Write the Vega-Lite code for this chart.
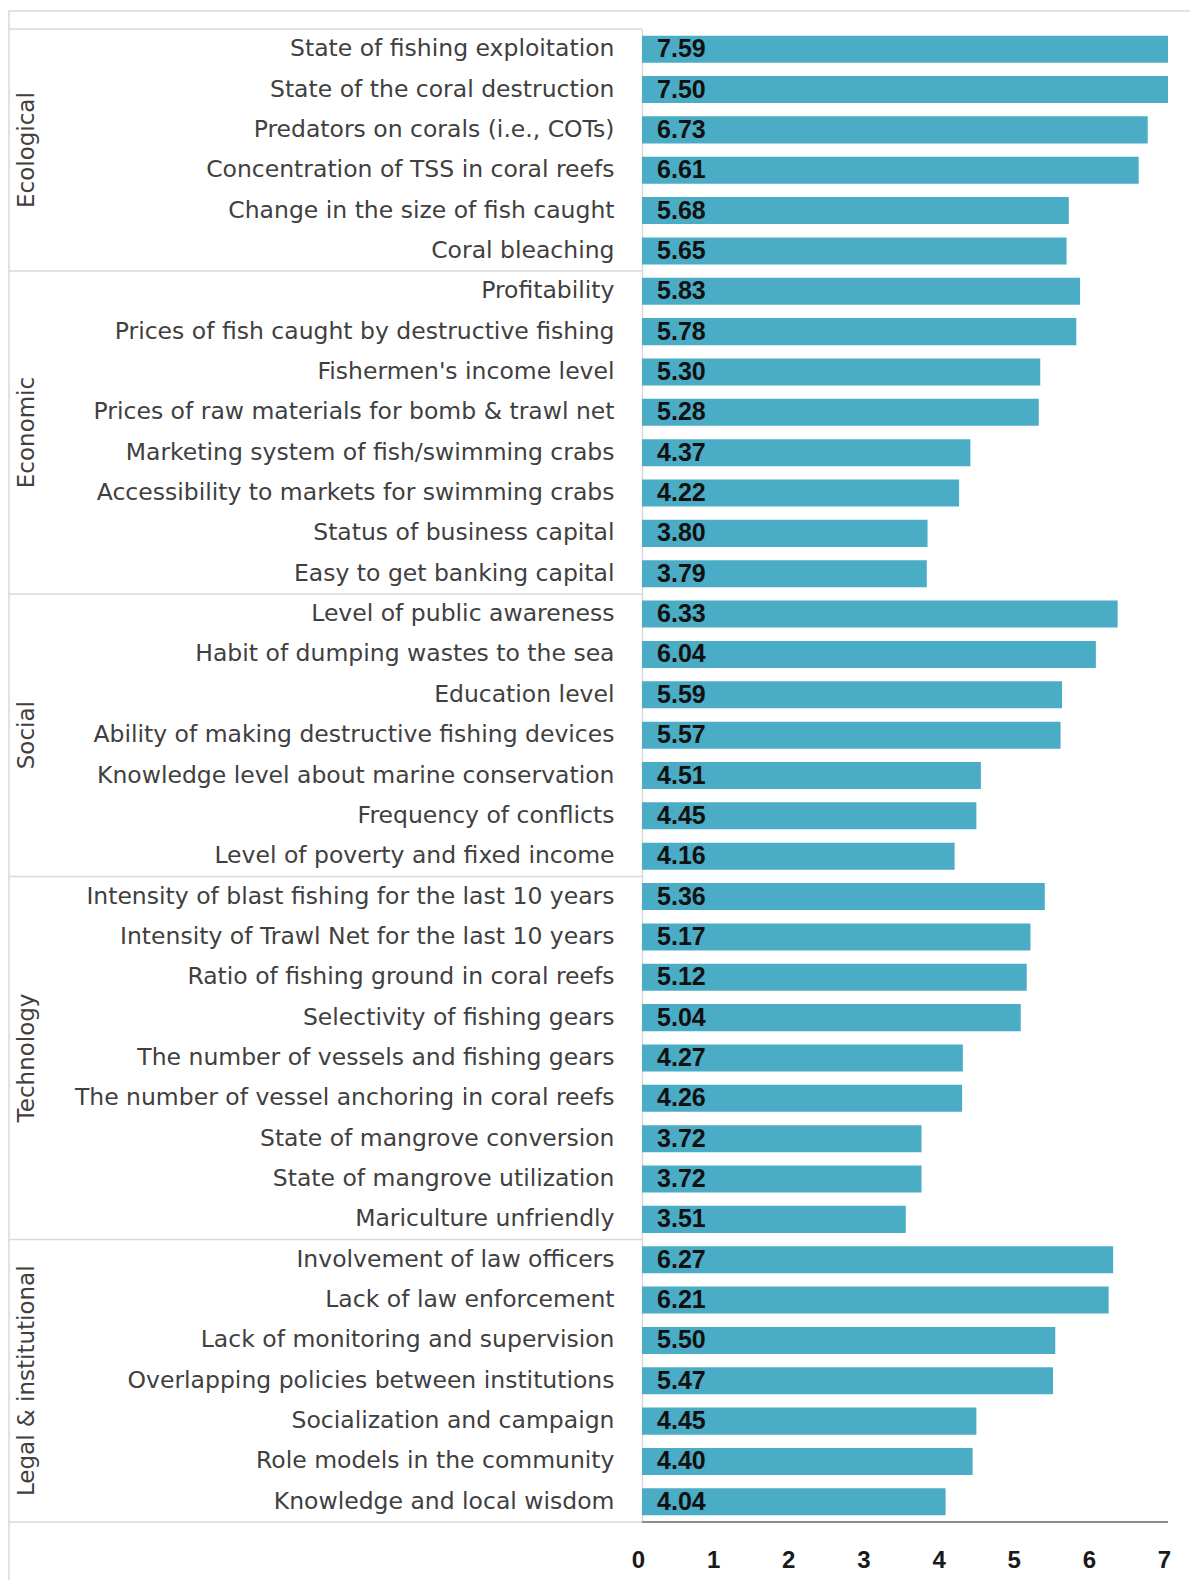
{
  "$schema": "https://vega.github.io/schema/vega-lite/v6.json",
  "width": 1195,
  "height": 1580,
  "autosize": {"type": "none"},
  "padding": {"left": 9, "top": 11, "right": 0, "bottom": 0},
  "background": "white",
  "config": {"view": {"stroke": "#d9d9d9", "strokeWidth": 1.5}},
  "data": {
    "values": [
      {"group": "Ecological", "item": "State of fishing exploitation", "value": 7.59},
      {"group": "Ecological", "item": "State of the coral destruction", "value": 7.50},
      {"group": "Ecological", "item": "Predators on corals (i.e., COTs)", "value": 6.73},
      {"group": "Ecological", "item": "Concentration of TSS in coral reefs", "value": 6.61},
      {"group": "Ecological", "item": "Change in the size of fish caught\u00a0", "value": 5.68},
      {"group": "Ecological", "item": "Coral bleaching", "value": 5.65},
      {"group": "Economic", "item": "Profitability", "value": 5.83},
      {"group": "Economic", "item": "Prices of fish caught by destructive fishing", "value": 5.78},
      {"group": "Economic", "item": "Fishermen's income level", "value": 5.30},
      {"group": "Economic", "item": "Prices of raw materials for bomb & trawl net", "value": 5.28},
      {"group": "Economic", "item": "Marketing system of fish/swimming crabs", "value": 4.37},
      {"group": "Economic", "item": "Accessibility to markets for swimming crabs", "value": 4.22},
      {"group": "Economic", "item": "Status of business capital", "value": 3.80},
      {"group": "Economic", "item": "Easy to get banking capital", "value": 3.79},
      {"group": "Social", "item": "Level of public awareness", "value": 6.33},
      {"group": "Social", "item": "Habit of dumping wastes to the sea", "value": 6.04},
      {"group": "Social", "item": "Education level", "value": 5.59},
      {"group": "Social", "item": "Ability of making destructive fishing devices", "value": 5.57},
      {"group": "Social", "item": "Knowledge level about marine conservation", "value": 4.51},
      {"group": "Social", "item": "Frequency of conflicts\u00a0", "value": 4.45},
      {"group": "Social", "item": "Level of poverty and fixed income", "value": 4.16},
      {"group": "Technology", "item": "Intensity of blast fishing for the last 10 years", "value": 5.36},
      {"group": "Technology", "item": "Intensity of Trawl Net for the last 10 years", "value": 5.17},
      {"group": "Technology", "item": "Ratio of fishing ground in coral reefs", "value": 5.12},
      {"group": "Technology", "item": "Selectivity of fishing gears", "value": 5.04},
      {"group": "Technology", "item": "The number of vessels and fishing gears", "value": 4.27},
      {"group": "Technology", "item": "The number of vessel anchoring in coral reefs", "value": 4.26},
      {"group": "Technology", "item": "State of mangrove conversion", "value": 3.72},
      {"group": "Technology", "item": "State of mangrove utilization", "value": 3.72},
      {"group": "Technology", "item": "Mariculture unfriendly", "value": 3.51},
      {"group": "Legal & institutional", "item": "Involvement of law officers", "value": 6.27},
      {"group": "Legal & institutional", "item": "Lack of law enforcement", "value": 6.21},
      {"group": "Legal & institutional", "item": "Lack of monitoring and supervision", "value": 5.50},
      {"group": "Legal & institutional", "item": "Overlapping policies between institutions", "value": 5.47},
      {"group": "Legal & institutional", "item": "Socialization and campaign\u00a0", "value": 4.45},
      {"group": "Legal & institutional", "item": "Role models in the community", "value": 4.40},
      {"group": "Legal & institutional", "item": "Knowledge and local wisdom", "value": 4.04}
    ]
  },
  "layer": [
    {
      "mark": {"type": "bar", "color": "#4BACC6", "height": {"band": 0.67}},
      "encoding": {
        "y": {
          "field": "item",
          "type": "nominal",
          "sort": null,
          "scale": {"range": [18, 1511], "paddingInner": 0, "paddingOuter": 0},
          "axis": {
            "orient": "left",
            "offset": -633,
            "title": null,
            "ticks": false,
            "tickSize": 0,
            "domainColor": "#d9d9d9",
            "domainWidth": 1.5,
            "labelFont": "DejaVu Sans",
            "labelFontSize": 23.5,
            "labelColor": "#404040",
            "labelPadding": 28,
            "labelLimit": 0,
            "labelAlign": "right",
            "labelBaseline": "middle"
          }
        },
        "x": {
          "field": "value",
          "type": "quantitative",
          "scale": {"domain": [-8.424, 7], "range": [0, 1159], "clamp": true, "nice": false, "zero": false},
          "axis": {
            "orient": "bottom",
            "offset": -69,
            "values": [0, 1, 2, 3, 4, 5, 6, 7],
            "format": "d",
            "title": null,
            "domain": false,
            "ticks": false,
            "tickSize": 0,
            "grid": false,
            "labelFlush": false,
            "labelFont": "Liberation Sans",
            "labelFontWeight": "bold",
            "labelFontSize": 24,
            "labelColor": "#1a1a1a",
            "labelPadding": 26,
            "labelOffset": -4
          }
        }
      }
    },
    {
      "transform": [
        {"window": [{"op": "row_number", "as": "rn"}], "groupby": ["group"]},
        {"filter": "datum.rn == 1"}
      ],
      "mark": {"type": "rule", "color": "#d9d9d9", "strokeWidth": 1.5},
      "encoding": {
        "y": {"field": "item", "type": "nominal", "sort": null, "bandPosition": 0, "title": null},
        "x": {"datum": -8.424, "type": "quantitative", "title": null},
        "x2": {"datum": 0}
      }
    },
    {
      "transform": [
        {"window": [{"op": "row_number", "as": "rn"}]},
        {"joinaggregate": [{"op": "count", "as": "total"}]},
        {"filter": "datum.rn == datum.total"}
      ],
      "mark": {"type": "rule", "color": "#d9d9d9", "strokeWidth": 1.5},
      "encoding": {
        "y": {"field": "item", "type": "nominal", "sort": null, "bandPosition": 1, "title": null},
        "x": {"datum": -8.424, "type": "quantitative", "title": null},
        "x2": {"datum": 0}
      }
    },
    {
      "transform": [
        {"window": [{"op": "row_number", "as": "rn"}]},
        {"joinaggregate": [{"op": "count", "as": "total"}]},
        {"filter": "datum.rn == datum.total"}
      ],
      "mark": {"type": "rule", "color": "#8c8c8c", "strokeWidth": 2},
      "encoding": {
        "y": {"field": "item", "type": "nominal", "sort": null, "bandPosition": 1, "title": null},
        "x": {"datum": 0, "type": "quantitative", "title": null},
        "x2": {"datum": 7}
      }
    },
    {
      "mark": {"type": "text", "align": "left", "baseline": "middle", "font": "Liberation Sans", "fontWeight": "bold", "fontSize": 25, "color": "#111111"},
      "encoding": {
        "y": {"field": "item", "type": "nominal", "sort": null, "title": null},
        "x": {"datum": 0.2, "type": "quantitative", "title": null},
        "text": {"field": "value", "type": "quantitative", "format": ".2f"}
      }
    },
    {
      "transform": [
        {"window": [{"op": "row_number", "as": "rn"}], "groupby": ["group"]},
        {"joinaggregate": [{"op": "count", "as": "n"}], "groupby": ["group"]},
        {"filter": "datum.n % 2 == 1 && datum.rn == (datum.n + 1) / 2"}
      ],
      "mark": {"type": "text", "angle": 270, "align": "center", "baseline": "middle", "font": "DejaVu Sans", "fontSize": 23, "color": "#404040"},
      "encoding": {
        "y": {"field": "item", "type": "nominal", "sort": null, "bandPosition": 0.5, "title": null},
        "x": {"datum": -8.185, "type": "quantitative", "title": null},
        "text": {"field": "group"}
      }
    },
    {
      "transform": [
        {"window": [{"op": "row_number", "as": "rn"}], "groupby": ["group"]},
        {"joinaggregate": [{"op": "count", "as": "n"}], "groupby": ["group"]},
        {"filter": "datum.n % 2 == 0 && datum.rn == datum.n / 2 + 1"}
      ],
      "mark": {"type": "text", "angle": 270, "align": "center", "baseline": "middle", "font": "DejaVu Sans", "fontSize": 23, "color": "#404040"},
      "encoding": {
        "y": {"field": "item", "type": "nominal", "sort": null, "bandPosition": 0, "title": null},
        "x": {"datum": -8.185, "type": "quantitative", "title": null},
        "text": {"field": "group"}
      }
    }
  ]
}
